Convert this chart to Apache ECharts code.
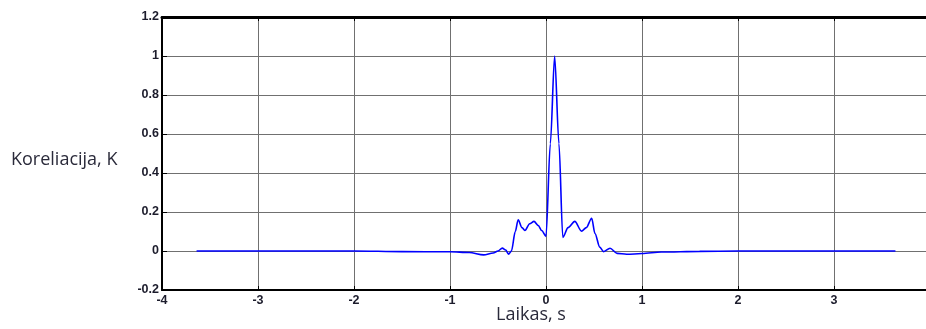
<!DOCTYPE html>
<html>
<head>
<meta charset="utf-8">
<script src="https://cdn.jsdelivr.net/npm/echarts@6/dist/echarts.min.js"></script>
<style>html,body{margin:0;padding:0;background:#fff;overflow:hidden;width:926px;height:329px;}#c{width:960px;height:329px;}</style>
</head>
<body>
<div id="c"></div>
<script>
var timeValues = [-3.64, -3.0, -2.0, -1.5, -1.0, -0.8, -0.65, -0.55, -0.5, -0.455, -0.42, -0.39, -0.36, -0.32, -0.29, -0.25, -0.22, -0.17, -0.125, -0.08, -0.045, 0.0, 0.045, 0.09, 0.135, 0.175, 0.23, 0.3, 0.37, 0.42, 0.476, 0.51, 0.56, 0.6, 0.667, 0.74, 0.84, 1.0, 1.2, 1.6, 2.0, 3.0, 3.64];
var corrValues = [0, 0, 0, -0.003, -0.004, -0.008, -0.02, -0.01, 0.0, 0.015, 0.005, -0.016, 0.0, 0.1, 0.16, 0.12, 0.105, 0.14, 0.152, 0.13, 0.105, 0.075, 0.55, 1.0, 0.55, 0.07, 0.12, 0.152, 0.102, 0.12, 0.168, 0.09, 0.02, -0.003, 0.014, -0.012, -0.017, -0.013, -0.005, -0.002, 0, 0, 0];
var xTicks = [-4, -3, -2, -1, 0, 1, 2, 3, 4];
var yTicks = [-0.2, 0, 0.2, 0.4, 0.6, 0.8, 1, 1.2];
var yAxisTitle = 'Koreliacija, K';
var xAxisTitle = 'Laikas, s';

var points = timeValues.map(function (t, i) { return [t, corrValues[i]]; });
var chart = echarts.init(document.getElementById('c'));
var labelStyle = { fontFamily: 'Liberation Sans', fontWeight: 'bold', fontSize: 12.5, color: '#1c1c2c' };
chart.setOption({
  animation: false,
  grid: { left: 162, top: 17, width: 768, height: 273, containLabel: false },
  xAxis: [{
    type: 'value', min: xTicks[0], max: xTicks[xTicks.length - 1], interval: 1,
    axisLine: { onZero: false, lineStyle: { color: '#000', width: 2 } },
    axisTick: { inside: true, length: 4, lineStyle: { color: '#000' } },
    axisLabel: Object.assign({ margin: 4, formatter: function (v) { return String(v); } }, labelStyle),
    splitLine: { show: true, lineStyle: { color: '#707070', width: 1 } }
  }, {
    type: 'value', position: 'top', min: xTicks[0], max: xTicks[xTicks.length - 1], interval: 1,
    axisLine: { onZero: false, lineStyle: { color: '#000', width: 3 } },
    axisTick: { inside: true, length: 4, lineStyle: { color: '#000' } },
    axisLabel: { show: false }, splitLine: { show: false }
  }],
  yAxis: {
    type: 'value', min: yTicks[0], max: yTicks[yTicks.length - 1], interval: 0.2,
    axisLine: { onZero: false, lineStyle: { color: '#000', width: 2 } },
    axisTick: { inside: true, length: 5, lineStyle: { color: '#000' } },
    axisLabel: Object.assign({ margin: 3, formatter: function (v) { return String(Math.round(v * 10) / 10); } }, labelStyle),
    splitLine: { show: true, lineStyle: { color: '#707070', width: 1 } }
  },
  series: [{
    type: 'line', xAxisIndex: 0, data: points, showSymbol: false,
    smooth: 0.3, smoothMonotone: 'x',
    lineStyle: { color: '#0000ff', width: 1.6 }
  }],
  graphic: [
    { type: 'text', left: 11, top: 151, style: { text: yAxisTitle, fontFamily: 'Open Sans', fontSize: 18, fill: '#2a2a3a' } },
    { type: 'text', left: 496, top: 306, style: { text: xAxisTitle, fontFamily: 'Open Sans', fontSize: 18, fill: '#2a2a3a' } }
  ]
});
</script>
</body>
</html>
